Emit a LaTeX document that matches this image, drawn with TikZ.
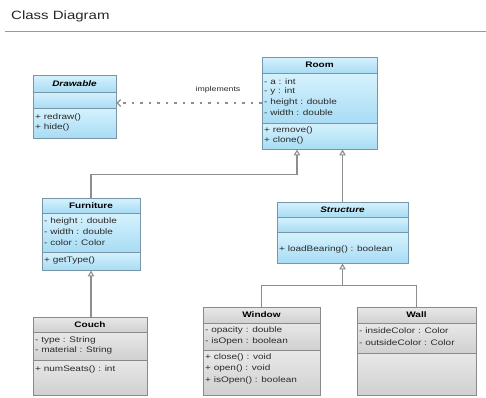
\documentclass[tikz,border=0pt]{standalone}
\usepackage{fontspec}
\setmainfont{Liberation Sans}[FakeStretch=1.25]
\usetikzlibrary{arrows.meta,calc,fit}
\definecolor{bluetop}{HTML}{D6F2FD}
\definecolor{bluebot}{HTML}{A8DCF4}
\definecolor{blueborder}{HTML}{7896A8}
\definecolor{graytop}{HTML}{E8E8E8}
\definecolor{graybot}{HTML}{D0D0D0}
\definecolor{grayborder}{HTML}{8A8A8A}
\definecolor{conncolor}{HTML}{8E8E8E}
\definecolor{txtcolor}{HTML}{2A2A2A}
\tikzset{
 blueshade/.style={top color=bluetop,bottom color=bluebot,draw=none},
 grayshade/.style={top color=graytop,bottom color=graybot,draw=none},
 blueline/.style={draw=blueborder,line width=0.9pt},
 grayline/.style={draw=grayborder,line width=0.9pt},
 item/.style={anchor=west,inner sep=0pt,text=txtcolor,font=\fontsize{8}{9}\selectfont},
 ctitle/.style={inner sep=0pt,font=\fontsize{8}{9}\selectfont\bfseries},
 conn/.style={draw=conncolor,line width=1.1pt},
 gen/.style={conn,-{Triangle[open,length=6pt,width=6.5pt]}},
 impl/.style={conn,dash pattern=on 2.5pt off 6pt,-{Straight Barb[length=3.5pt,width=7pt]}},
}
% name, x1, y1, x2, y2, sep1, sep2, kind
\newcommand\umlbox[8]{%
 \shade[#8shade] (#2,#3) rectangle (#4,#6);
 \shade[#8shade] (#2,#6) rectangle (#4,#7);
 \shade[#8shade] (#2,#7) rectangle (#4,#5);
 \draw[#8line] (#2,#6) -- (#4,#6) (#2,#7) -- (#4,#7);
 \node[#8line,fit={(#2,#3) (#4,#5)},inner sep=0pt] (#1) {};
}
\begin{document}
\begin{tikzpicture}[x=1pt,y=-1pt]
\useasboundingbox (0,0) rectangle (486,397);
\fill[white] (0,0) rectangle (486,397);
% heading
\node[anchor=west,inner sep=0pt,text=black!85,font=\fontsize{12}{14}\selectfont] (heading) at (11,16) {Class Diagram};
\draw[draw=black!40,line width=1pt] (5,31) -- (486,31);

% Drawable
\umlbox{drawable}{33}{75}{116}{138}{92}{108}{blue}
\node[ctitle] (drawablet) at (74.5,83.5) {\textit{Drawable}};
\node[item] (d1) at (35,117) {+ redraw()};
\node[item] (d2) at (35,127.5) {+ hide()};

% Room
\umlbox{room}{262}{57}{377}{149}{73}{123}{blue}
\node[ctitle] (roomt) at (319.5,65) {Room};
\node[item] (r1) at (264,81.5) {- a : int};
\node[item] (r2) at (264,91.5) {- y : int};
\node[item] (r3) at (264,102.5) {- height : double};
\node[item] (r4) at (264,113) {- width : double};
\node[item] (r5) at (264,130.5) {+ remove()};
\node[item] (r6) at (264,140) {+ clone()};

% Furniture
\umlbox{furniture}{42}{198}{140}{270}{213}{252}{blue}
\node[ctitle] (furnituret) at (91,205.5) {Furniture};
\node[item] (f1) at (44,221) {- height : double};
\node[item] (f2) at (44,232) {- width : double};
\node[item] (f3) at (44,243) {- color : Color};
\node[item] (f4) at (44,260) {+ getType()};

% Structure
\umlbox{structure}{277}{202}{408}{263}{217}{232}{blue}
\node[ctitle] (structuret) at (342.5,209.5) {\textit{Structure}};
\node[item] (s1) at (279,249) {+ loadBearing() : boolean};

% Couch
\umlbox{couch}{33}{317}{147}{395}{332}{360}{gray}
\node[ctitle] (coucht) at (90,324.5) {Couch};
\node[item] (c1) at (35,340) {- type : String};
\node[item] (c2) at (35,350.5) {- material : String};
\node[item] (c3) at (35,369.5) {+ numSeats() : int};

% Window
\umlbox{window}{203}{307}{320}{395}{323}{350}{gray}
\node[ctitle] (windowt) at (261.5,315) {Window};
\node[item] (w1) at (205,330) {- opacity : double};
\node[item] (w2) at (205,341) {- isOpen : boolean};
\node[item] (w3) at (205,357.5) {+ close() : void};
\node[item] (w4) at (205,368.5) {+ open() : void};
\node[item] (w5) at (205,380) {+ isOpen() : boolean};

% Wall
\umlbox{wall}{357}{307}{476}{395}{323}{353}{gray}
\node[ctitle] (wallt) at (416.5,315) {Wall};
\node[item] (l1) at (359,331) {- insideColor : Color};
\node[item] (l2) at (359,342.5) {- outsideColor : Color};

% connectors
\draw[impl] (room.west) -- (room.west -| drawable.east);
\node[inner sep=0pt,text=txtcolor,font=\fontsize{7}{8}\selectfont] (impllabel) at (218,90) {implements};

\coordinate (rin1) at ($(room.south)+(-22.5,0)$);
\draw[gen] (furniture.north) -- ++(0,-23) -| (rin1);
\draw[gen] (structure.north) -- (structure.north |- room.south);
\draw[gen] (furniture.south |- couch.north) -- (furniture.south);
\coordinate (jn) at ($(structure.south)+(0,22)$);
\draw[conn] (window.north) |- (jn);
\draw[conn] (wall.north) |- (jn);
\draw[gen] (jn) -- (structure.south);
\end{tikzpicture}
\end{document}
